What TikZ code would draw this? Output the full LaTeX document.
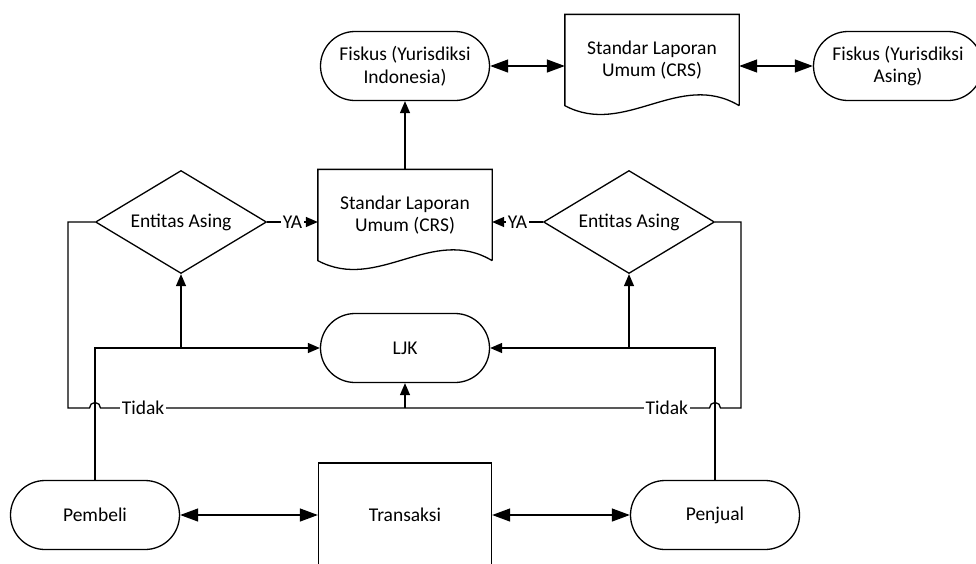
\documentclass[tikz,border=0pt]{standalone}
\usepackage{fontspec}
\setmainfont{Carlito}
\usetikzlibrary{shapes.misc,shapes.geometric,arrows.meta}

\tikzset{
  term/.style={rounded rectangle, draw, minimum width=173, minimum height=69, align=center, inner sep=2pt},
  decision/.style={diamond, draw, aspect=1.66, minimum width=171, minimum height=103, inner sep=1pt},
  doc/.style={rectangle, minimum width=173, minimum height=90, align=center, inner sep=2pt},
  proc/.style={rectangle, draw, minimum width=173, minimum height=104},
  lbl/.style={fill=white, inner sep=1.5pt},
  arr/.style={-{Triangle[length=12pt,width=10pt]}},
  bi/.style={{Triangle[length=18pt,width=13pt]}-{Triangle[length=18pt,width=13pt]}}
}
\newcommand{\docshape}[1]{%
  \draw (#1.south east) -- (#1.north east) -- (#1.north west) -- (#1.south west)
    .. controls +(60,32) and +(-60,-36) .. (#1.south east);}

\begin{document}
\begin{tikzpicture}[x=1pt, y=-1pt, line width=1.3pt, font=\fontsize{19.5}{22.5}\selectfont]
    \useasboundingbox (0,0) rectangle (976,563);
    \clip (0,0) rectangle (976,563);
    \fill[white] (0,0) rectangle (976,563);

    \node[term] (fiskusID) at (405,66) {Fiskus (Yurisdiksi\\Indonesia)};
    \node[doc] (crsTop) at (652,60) {Standar Laporan\\Umum (CRS)};
    \node[term] (fiskusAS) at (898,66) {Fiskus (Yurisdiksi\\Asing)};
    \node[doc] (crsMid) at (405,215) {Standar Laporan\\Umum (CRS)};
    \node[decision] (entL) at (181,222) {Entitas Asing};
    \node[decision] (entR) at (629,222) {Entitas Asing};
    \node[term] (ljk) at (405,348) {LJK};
    \node[term] (pembeli) at (95,515) {Pembeli};
    \node[term] (penjual) at (715,515) {Penjual};
    \node[proc] (transaksi) at (405,515) {Transaksi};
    \docshape{crsTop}
    \docshape{crsMid}

    \coordinate (noL) at (68,408);
    \coordinate (noR) at (741,408);
    \coordinate (jL) at (pembeli.north |- noL);
    \coordinate (jR) at (penjual.north |- noR);

    \draw[bi] (fiskusID.east) -- (fiskusID.east -| crsTop.west);
    \draw[bi] (fiskusAS.west -| crsTop.east) -- (fiskusAS.west);
    \draw[bi] (pembeli.east) -- (transaksi.west);
    \draw[bi] (transaksi.east) -- (penjual.west);
    \draw[arr] (crsMid.north) -- (fiskusID.south);
    \draw[arr] (entL.east) -- node[lbl]{YA} (entL.east -| crsMid.west);
    \draw[arr] (entR.west) -- node[lbl]{YA} (entR.west -| crsMid.east);
    \draw[arr] (pembeli.north) |- (ljk.west);
    \draw[arr] (penjual.north) |- (ljk.east);
    \draw[arr] (entL.south |- ljk.west) -- (entL.south);
    \draw[arr] (entR.south |- ljk.east) -- (entR.south);
    \draw (entL.west) -| (noL) -- ([xshift=-5.5pt]jL) arc[start angle=180, end angle=0, radius=5.5pt]
      -- node[lbl, pos=0.14]{Tidak} (ljk.south |- noL);
    \draw (entR.east) -| (noR) -- ([xshift=5.5pt]jR) arc[start angle=0, end angle=180, radius=5.5pt]
      -- node[lbl, pos=0.14]{Tidak} (ljk.south |- noR);
    \draw[arr] (ljk.south |- noL) -- (ljk.south);
\end{tikzpicture}
\end{document}
